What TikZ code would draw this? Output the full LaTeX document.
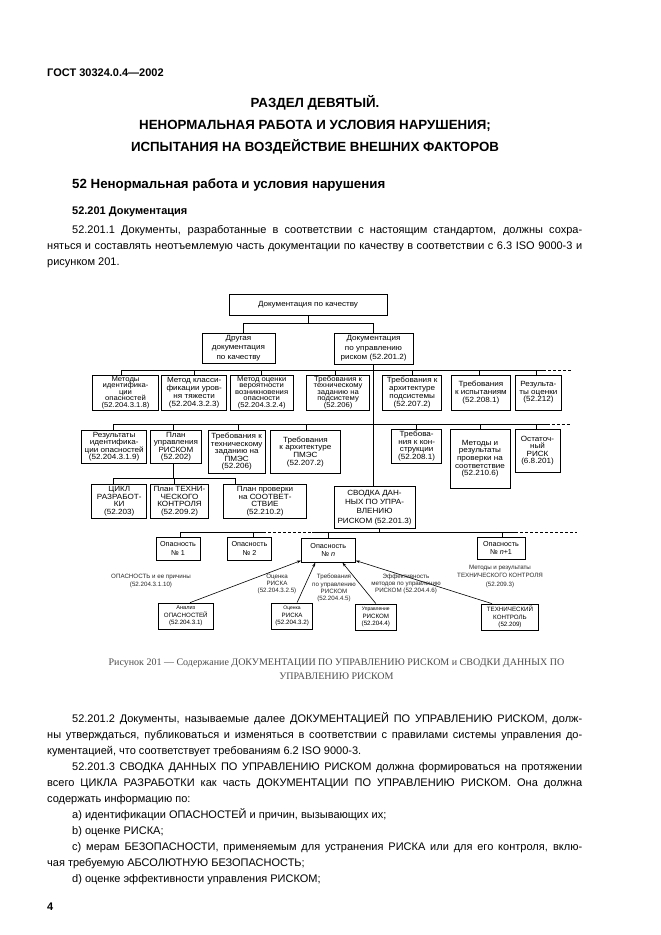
\documentclass[tikz,border=0pt]{standalone}
\usepackage{fontspec}
\setmainfont{Liberation Sans}
\newfontfamily\diagf[FakeStretch=1.08]{Liberation Sans}
\newfontfamily\capf{Liberation Serif}
\usetikzlibrary{arrows.meta}
\newcommand\fs[2]{\fontsize{#1}{#2}\selectfont\lineskiplimit=-20pt\relax}
\newcommand\dfs[2]{\diagf\fontsize{#1}{#2}\selectfont\lineskiplimit=-20pt\relax}
\tikzset{
 bxs/.style={draw, line width=0.7pt, inner sep=0pt, align=center, font=\dfs{7.5}{7.6}},
 bus/.style={line width=0.7pt},
 dbus/.style={line width=0.7pt, dash pattern=on 3pt off 2pt},
 lab/.style={inner sep=0pt, align=center, font=\fs{6.2}{7.2}, text=black!85},
 arr/.style={line width=0.6pt, -{Stealth[length=4.5pt,width=2.8pt]}},
 bl/.style={anchor=base west, inner sep=0pt, font=\fontsize{11}{13}\selectfont},
 hd/.style={anchor=base, inner sep=0pt, font=\bfseries\fontsize{13.3}{16}\selectfont},
}
\newcommand\bx[7][]{\node[bxs, minimum width=#5pt, minimum height=#6pt, #1] (#2) at (#3,#4) {#7};}
\newcommand\jl[4]{\node[bl] (#1) at (#2) {\makebox[#3pt][s]{#4}};}
\begin{document}
\begin{tikzpicture}[x=1pt,y=-1pt]
\useasboundingbox (0,0) rectangle (661,935);
\fill[white] (0,0) rectangle (661,935);
% ---------- header and titles
\node[bl, font=\bfseries\fontsize{11}{13}\selectfont] (gost) at (47,76) {ГОСТ 30324.0.4—2002};
\node[hd] (h1) at (315,107) {РАЗДЕЛ ДЕВЯТЫЙ.};
\node[hd] (h2) at (315,129) {НЕНОРМАЛЬНАЯ РАБОТА И УСЛОВИЯ НАРУШЕНИЯ;};
\node[hd] (h3) at (315,151) {ИСПЫТАНИЯ НА ВОЗДЕЙСТВИЕ ВНЕШНИХ ФАКТОРОВ};
\node[bl, font=\bfseries\fontsize{13.3}{16}\selectfont] (s52) at (72,188) {52 Ненормальная работа и условия нарушения};
\node[bl, font=\bfseries\fontsize{11}{13}\selectfont] (s201) at (72,214) {52.201 Документация};
% ---------- paragraph 52.201.1
\jl{p11}{72,233}{510}{52.201.1 Документы, разработанные в соответствии с настоящим стандартом, должны сохра-}
\jl{p12}{47,249}{535}{няться и составлять неотъемлемую часть документации по качеству в соответствии с 6.3 ISO 9000-3 и}
\node[bl] (p13) at (47,265) {рисунком 201.};
% ---------- diagram boxes
\bx{Q}{308}{304.5}{158}{21}{Документация по качеству}
\bx[font=\dfs{7.5}{9.6}]{O}{238.5}{348}{73}{30}{Другая\\документация\\по качеству}
\bx[font=\dfs{7.5}{9.6}]{R}{373.5}{348.5}{79}{31}{Документация\\по управлению\\риском (52.201.2)}
% row 3
\bx[font=\dfs{7.1}{6.5}]{A1}{125.5}{392.5}{65.6}{35}{Методы\\идентифика-\\ции\\опасностей\\(52.204.3.1.8)}
\bx[font=\dfs{7.5}{8.2}]{A2}{194.2}{392.5}{65}{35}{Метод класси-\\фикации уров-\\ня тяжести\\(52.204.3.2.3)}
\bx[font=\dfs{7.1}{6.5}]{A3}{261.7}{392.5}{63.3}{35}{Метод оценки\\вероятности\\возникновения\\опасности\\(52.204.3.2.4)}
\bx[font=\dfs{7.1}{6.5}]{A4}{338.1}{392.5}{62.8}{35}{Требования к\\техническому\\заданию на\\подсистему\\(52.206)}
\bx[font=\dfs{7.5}{8.2}]{A5}{412.2}{392.5}{59}{35}{Требования к\\архитектуре\\подсистемы\\(52.207.2)}
\bx{A6}{480.9}{392.5}{58.3}{35}{Требования\\к испытаниям\\(52.208.1)}
\bx{A7}{538.4}{392.5}{46.7}{35}{Результа-\\ты оценки\\(52.212)}
% row 4
\bx{B1}{114.2}{446.7}{65}{33.3}{Результаты\\идентифика-\\ции опасностей\\(52.204.3.1.9)}
\bx[font=\dfs{7.5}{7.2}]{B2}{175.9}{446.7}{51.7}{33.3}{План\\управления\\РИСКОМ\\(52.202)}
\bx{B3}{236.7}{451.7}{56.7}{43.3}{Требования к\\техническому\\заданию на\\ПМЭС\\(52.206)}
\bx{B4}{305.4}{451.7}{69.3}{43.3}{Требования\\к архитектуре\\ПМЭС\\(52.207.2)}
\bx{B5}{416.7}{446.2}{50}{34.3}{Требова-\\ния к кон-\\струкции\\(52.208.1)}
\bx{B6}{480}{458.7}{60}{59.3}{Методы и\\результаты\\проверки на\\соответствие\\(52.210.6)}
\bx{B7}{537.5}{450.7}{45}{43.3}{Остаточ-\\ный\\РИСК\\(6.8.201)}
% row 5
\bx{C1}{119.2}{501.3}{55}{34}{ЦИКЛ\\РАЗРАБОТ-\\КИ\\(52.203)}
\bx{C2}{179.5}{501.3}{57.6}{34}{План ТЕХНИ-\\ЧЕСКОГО\\КОНТРОЛЯ\\(52.209.2)}
\bx{C3}{265}{501.3}{83.4}{34}{План проверки\\на СООТВЕТ-\\СТВИЕ\\(52.210.2)}
\bx[font=\dfs{7.5}{9.2}]{S}{374.5}{507.5}{81}{41.6}{СВОДКА ДАН-\\НЫХ ПО УПРА-\\ВЛЕНИЮ\\РИСКОМ (52.201.3)}
% row 6
\bx[font=\fs{7.2}{8.6}]{D1}{178}{548.5}{44}{23}{Опасность\\№ 1}
\bx[font=\fs{7.2}{8.6}]{D2}{249.5}{548.5}{44.4}{23}{Опасность\\№ 2}
\bx[font=\fs{7.2}{8.6}, line width=1pt]{Dn}{328.35}{550}{53.3}{24}{Опасность\\№ \textit{n}}
\bx[font=\fs{7.2}{8.6}]{Dn1}{501}{548}{48}{22}{Опасность\\№ \textit{n}+1}
% bottom boxes
\bx[font=\fs{6.2}{7.4}]{E1}{185.8}{616}{55}{26}{{\fontsize{5.6}{7}\selectfont Анализ}\\ОПАСНОСТЕЙ\\(52.204.3.1)}
\bx[font=\fs{6.2}{7.4}, line width=0.9pt]{E2}{292.1}{616}{40.8}{26}{{\fontsize{5}{7}\selectfont Оценка}\\РИСКА\\(52.204.3.2)}
\bx[font=\fs{6.2}{7.4}, line width=0.9pt]{E3}{375.85}{617}{41.7}{26}{{\fontsize{5}{7}\selectfont Управление}\\РИСКОМ\\(52.204.4)}
\bx[font=\fs{6.2}{7.4}]{E4}{510}{617}{56.6}{26}{ТЕХНИЧЕСКИЙ\\КОНТРОЛЬ\\(52.209)}
% ---------- connectors
\coordinate (j1) at (308.7,323.3);
\draw[bus] (Q.south) -- (Q.south |- j1);
\draw[bus] ([xshift=4.5pt]O.north) coordinate (t) -- (t |- j1) -- (R.north |- j1) -- (R.north);
% bus row 3
\coordinate (b3L) at (121.7,370);
\coordinate (b3R) at (543,370);
\coordinate (b3E) at (572,370);
\draw[bus] (b3L) -- (b3R);
\draw[dbus] (b3R) -- (b3E);
\foreach \n/\s in {A1/-3.8, A2/0, A3/0, A4/-3, A5/0, A6/-1.6, A7/-2.4}
  \draw[bus] ([xshift=\s pt]\n.north) coordinate (t) -- (t |- b3L);
\draw[bus] (R.south) -- (R.south |- S.north);
% bus row 4
\coordinate (b4L) at (113.3,424);
\coordinate (b4R) at (546.7,424);
\coordinate (b4E) at (570,424);
\draw[bus] (b4L) -- (b4R);
\draw[dbus] (b4R) -- (b4E);
\foreach \n/\s in {B1/-0.9, B2/-2.6, B3/1.6, B4/1.3, B5/-0.7, B6/0, B7/-1.5}
  \draw[bus] ([xshift=\s pt]\n.north) coordinate (t) -- (t |- b4L);
% bus row 5
\coordinate (b5L) at (113.3,478.3);
\coordinate (b5R) at (235,478.3);
\draw[bus] ([xshift=-2.6pt]B2.south) coordinate (t) -- (t |- b5L);
\draw[bus] (b5L) -- (b5R);
\foreach \n/\s in {C1/-5.9, C2/-5.5, C3/-30}
  \draw[bus] ([xshift=\s pt]\n.north) coordinate (t) -- (t |- b5L);
% bus row 6
\coordinate (b6a) at (180,532.5);
\coordinate (b6b) at (263,532.5);
\coordinate (b6c) at (312,532.5);
\coordinate (b6d) at (515,532.5);
\coordinate (b6e) at (577,532.5);
\draw[bus] ([xshift=4.8pt]S.south) coordinate (t) -- (t |- b6a);
\draw[bus] (b6a) -- (b6b);
\draw[dbus] (b6b) -- (b6c);
\draw[bus] (b6c) -- (b6d);
\draw[dbus] (b6d) -- (b6e);
\foreach \n/\s in {D1/2, D2/3.8, Dn/0, Dn1/1.7}
  \draw[bus] ([xshift=\s pt]\n.north) coordinate (t) -- (t |- b6a);
% arrows into hazard n
\draw[arr] ([xshift=4.2pt]E1.north) -- ([yshift=2pt]Dn.south west);
\draw[arr] ([xshift=5pt]E2.north) -- ([xshift=-13pt]Dn.south);
\draw[arr] (E3.north) -- ([xshift=14pt]Dn.south);
\draw[arr] ([xshift=-18pt]E4.north) -- ([yshift=2pt]Dn.south east);
% labels
\node[lab, font=\fs{6.2}{8}] (L1) at (151,581) {ОПАСНОСТЬ и ее причины\\(52.204.3.1.10)};
\node[lab] (L2) at (277,584) {Оценка\\РИСКА\\(52.204.3.2.5)};
\node[lab] (L3) at (334,588) {Требования\\по управлению\\РИСКОМ\\(52.204.4.5)};
\node[lab] (L4) at (406,584) {Эффективность\\методов по управлению\\РИСКОМ (52.204.4.6)};
\node[lab, font=\fs{6.2}{8.5}] (L5) at (500,576.5) {Методы и результаты\\ТЕХНИЧЕСКОГО КОНТРОЛЯ\\(52.209.3)};
% ---------- caption
\node[anchor=base, inner sep=0pt, font=\capf\fontsize{10}{12}\selectfont, text=black!70] (cap1) at (336.5,665) {Рисунок 201 — Содержание ДОКУМЕНТАЦИИ ПО УПРАВЛЕНИЮ РИСКОМ и СВОДКИ ДАННЫХ ПО};
\node[anchor=base, inner sep=0pt, font=\capf\fontsize{10}{12}\selectfont, text=black!70] (cap2) at (336.5,679) {УПРАВЛЕНИЮ РИСКОМ};
% ---------- paragraphs 52.201.2, 52.201.3
\jl{p21}{72,722}{510}{52.201.2 Документы, называемые далее ДОКУМЕНТАЦИЕЙ ПО УПРАВЛЕНИЮ РИСКОМ, долж-}
\jl{p22}{47,738}{535}{ны утверждаться, публиковаться и изменяться в соответствии с правилами системы управления до-}
\node[bl] (p23) at (47,754) {кументацией, что соответствует требованиям 6.2 ISO 9000-3.};
\jl{p31}{72,770}{510}{52.201.3 СВОДКА ДАННЫХ ПО УПРАВЛЕНИЮ РИСКОМ должна формироваться на протяжении}
\jl{p32}{47,786}{535}{всего ЦИКЛА РАЗРАБОТКИ как часть ДОКУМЕНТАЦИИ ПО УПРАВЛЕНИЮ РИСКОМ. Она должна}
\node[bl] (p33) at (47,802) {содержать информацию по:};
\node[bl] (pa) at (72,818) {a) идентификации ОПАСНОСТЕЙ и причин, вызывающих их;};
\node[bl] (pb) at (72,834) {b) оценке РИСКА;};
\jl{pc1}{72,850}{510}{c) мерам БЕЗОПАСНОСТИ, применяемым для устранения РИСКА или для его контроля, вклю-}
\node[bl] (pc2) at (47,866) {чая требуемую АБСОЛЮТНУЮ БЕЗОПАСНОСТЬ;};
\node[bl] (pd) at (72,882) {d) оценке эффективности управления РИСКОМ;};
\node[bl, font=\bfseries\fontsize{11}{13}\selectfont] (pg) at (47,910) {4};
\end{tikzpicture}
\end{document}
